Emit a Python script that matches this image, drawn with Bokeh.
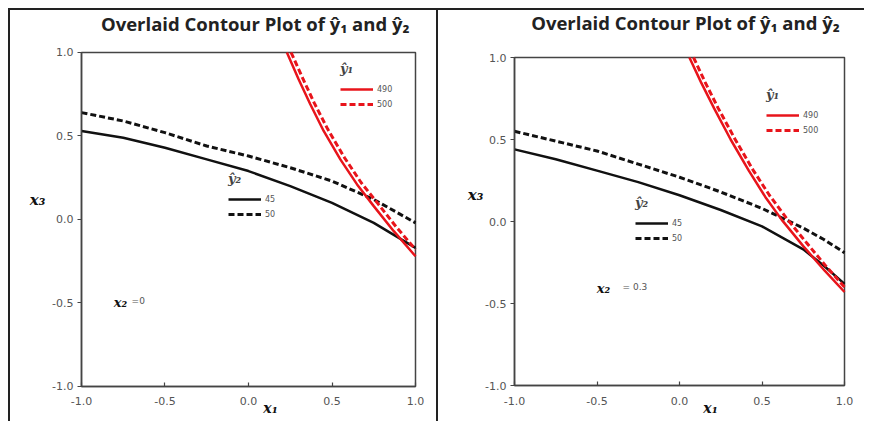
from bokeh.plotting import figure
from bokeh.models import (Range1d, FixedTicker, PrintfTickFormatter, Label, Legend,
                          LegendItem, InlineStyleSheet, BoxAnnotation)
from bokeh.layouts import row
from bokeh.embed import file_html
from bokeh.resources import INLINE

# ---------------- data ----------------
title_text = "Overlaid Contour Plot of ŷ₁ and ŷ₂"
ticks = [-1.0, -0.5, 0.0, 0.5, 1.0]

# panel 1 : x2 = 0
p1_y2_x1 = [-1.0, -0.75, -0.5, -0.25, 0.0, 0.25, 0.5, 0.75, 1.0]
p1_y2_45 = [0.53, 0.49, 0.43, 0.36, 0.29, 0.20, 0.10, -0.02, -0.17]
p1_y2_50 = [0.64, 0.59, 0.52, 0.44, 0.38, 0.31, 0.23, 0.12, -0.02]
p1_y1_490_x1 = [0.23, 0.30, 0.37, 0.45, 0.55, 0.65, 0.75, 0.87, 1.0]
p1_y1_490_x3 = [1.0, 0.84, 0.69, 0.53, 0.36, 0.21, 0.08, -0.07, -0.22]
p1_y1_500_x1 = [0.255, 0.325, 0.395, 0.475, 0.575, 0.675, 0.775, 0.885, 1.0]
p1_y1_500_x3 = [1.0, 0.845, 0.695, 0.54, 0.37, 0.22, 0.095, -0.045, -0.18]

# panel 2 : x2 = 0.3
p2_y2_x1 = [-1.0, -0.75, -0.5, -0.25, 0.0, 0.25, 0.5, 0.75, 0.875, 1.0]
p2_y2_45 = [0.44, 0.38, 0.31, 0.24, 0.16, 0.07, -0.03, -0.17, -0.27, -0.38]
p2_y2_50 = [0.55, 0.49, 0.43, 0.35, 0.27, 0.18, 0.08, -0.04, -0.11, -0.19]
p2_y1_490_x1 = [0.06, 0.13, 0.21, 0.31, 0.42, 0.52, 0.62, 0.75, 0.88, 1.0]
p2_y1_490_x3 = [1.0, 0.85, 0.69, 0.50, 0.31, 0.15, 0.01, -0.15, -0.30, -0.43]
p2_y1_500_x1 = [0.085, 0.155, 0.235, 0.335, 0.445, 0.545, 0.645, 0.77, 0.89, 1.0]
p2_y1_500_x3 = [1.0, 0.85, 0.69, 0.505, 0.315, 0.16, 0.025, -0.13, -0.275, -0.40]

y1_levels = ["490", "500"]
y2_levels = ["45", "50"]

RED = "#e8141b"
BLACK = "#111111"
AXIS = "#444444"
TICKLBL = "#555555"


def make_panel(cfg):
    p = figure(width=428, height=413, output_backend="svg", toolbar_location=None,
               x_range=Range1d(*cfg["xr"]), y_range=Range1d(*cfg["yr"]),
               min_border=0)
    p.title = None
    p.grid.visible = False
    p.outline_line_color = None
    p.background_fill_color = "white"
    p.border_fill_color = "white"
    p.stylesheets = [InlineStyleSheet(css=cfg["css"])]

    # plot box
    p.add_layout(BoxAnnotation(left=-1, right=1, bottom=-1, top=1, fill_alpha=0,
                               line_color=AXIS, line_alpha=1.0, line_width=1.5,
                               level="underlay"))

    for ax in (p.xaxis[0], p.yaxis[0]):
        ax.fixed_location = -1.0
        ax.bounds = (-1.0, 1.0)
        ax.ticker = FixedTicker(ticks=ticks)
        ax.formatter = PrintfTickFormatter(format="%.1f")
        ax.axis_line_color = AXIS
        ax.axis_line_width = 1.5
        ax.major_tick_line_color = AXIS
        ax.major_tick_line_width = 1.2
        ax.minor_tick_line_color = None
        ax.major_label_text_font = "DejaVu Sans"
        ax.major_label_text_font_size = "11px"
        ax.major_label_text_color = TICKLBL
    p.xaxis.major_tick_in = 4
    p.xaxis.major_tick_out = 0
    p.xaxis.major_label_standoff = 11
    p.yaxis.major_tick_in = 0
    p.yaxis.major_tick_out = 4
    p.yaxis.major_label_standoff = 4

    b45 = p.line(cfg["y2_x1"], cfg["y2_45"], line_color=BLACK, line_width=2.5)
    b50 = p.line(cfg["y2_x1"], cfg["y2_50"], line_color=BLACK, line_width=3, line_dash="6 3")
    r490 = p.line(cfg["r490_x1"], cfg["r490_x3"], line_color=RED, line_width=2.5)
    r500 = p.line(cfg["r500_x1"], cfg["r500_x3"], line_color=RED, line_width=3, line_dash="6 3")

    def add_legend(title, labels, renderers, loc):
        lg = Legend(items=[LegendItem(label=l, renderers=[r]) for l, r in zip(labels, renderers)],
                    location=loc, title=title)
        lg.title_text_font = "DejaVu Serif"
        lg.title_text_font_style = "bold italic"
        lg.title_text_font_size = "13px"
        lg.title_standoff = 7
        lg.label_text_font = "DejaVu Sans"
        lg.label_text_font_size = "8px"
        lg.label_text_color = TICKLBL
        lg.label_standoff = 4
        lg.glyph_width = 33
        lg.glyph_height = 12
        lg.label_height = 12
        lg.spacing = 3
        lg.padding = 0
        lg.margin = 0
        lg.border_line_alpha = 0
        lg.background_fill_alpha = 0
        p.add_layout(lg)

    add_legend("ŷ₁", y1_levels, [r490, r500], cfg["leg1"])
    add_legend("ŷ₂", y2_levels, [b45, b50], cfg["leg2"])

    def lab(x, y, text, size, style="normal", font="DejaVu Serif", align="center",
            color="#111"):
        p.add_layout(Label(x=x, y=y, text=text, text_font=font, text_font_size=size,
                           text_font_style=style, text_align=align, text_baseline="middle",
                           text_color=color))

    lab(cfg["title"][0], cfg["title"][1], title_text, "18.5px", "bold", "Open Sans", color="#222")
    lab(cfg["x3lab"][0], cfg["x3lab"][1], "x₃", "15px", "bold italic")
    lab(cfg["x1lab"][0], cfg["x1lab"][1], "x₁", "14px", "bold italic")
    lab(cfg["x2lab"][0], cfg["x2lab"][1], "x₂", "13px", "bold italic")
    lab(cfg["x2val"][0], cfg["x2val"][1], cfg["x2text"], "9px", "normal", "DejaVu Sans", "left", TICKLBL)
    return p


cfg1 = dict(xr=(-1.4251, 1.1377), yr=(-1.2216, 1.2515),
            css=":host { border-top: 2px solid #222; border-left: 2px solid #222; margin-left: 8px; margin-top: 8px; }",
            y2_x1=p1_y2_x1, y2_45=p1_y2_45, y2_50=p1_y2_50,
            r490_x1=p1_y1_490_x1, r490_x3=p1_y1_490_x3,
            r500_x1=p1_y1_500_x1, r500_x3=p1_y1_500_x3,
            leg1=(330, 313), leg2=(218, 203),
            title=(0.04, 1.174), x3lab=(-1.263, 0.114), x1lab=(0.132, -1.128),
            x2lab=(-0.766, -0.497), x2val=(-0.70, -0.49), x2text="=0")
cfg2 = dict(xr=(-1.4606, 1.1333), yr=(-1.2317, 1.2866),
            css=":host { border-top: 2px solid #222; border-left: 2px solid #222; margin-top: 8px; }",
            y2_x1=p2_y2_x1, y2_45=p2_y2_45, y2_50=p2_y2_50,
            r490_x1=p2_y1_490_x1, r490_x3=p2_y1_490_x3,
            r500_x1=p2_y1_500_x1, r500_x3=p2_y1_500_x3,
            leg1=(328, 287), leg2=(197, 179),
            title=(0.036, 1.213), x3lab=(-1.236, 0.159), x1lab=(0.188, -1.140),
            x2lab=(-0.461, -0.409), x2val=(-0.345, -0.40), x2text="= 0.3")

p1 = make_panel(cfg1)
p2 = make_panel(cfg2)
layout = row(p1, p2)

open("out.html", "w").write(file_html(layout, INLINE))
